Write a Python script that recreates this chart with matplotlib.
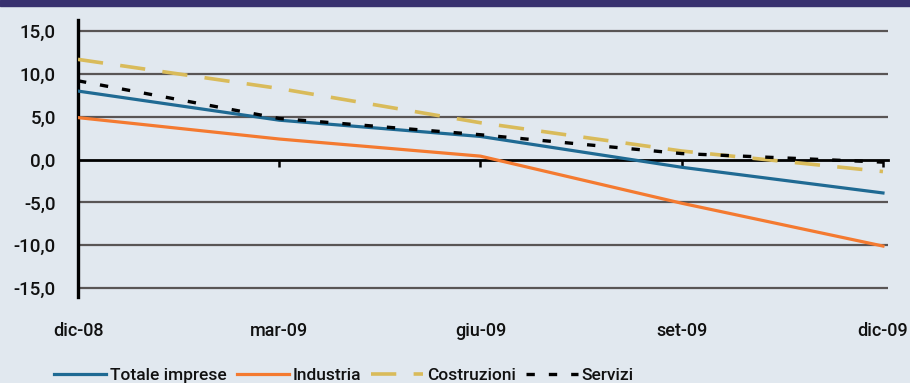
import matplotlib.pyplot as plt
from matplotlib.patches import Rectangle

# quarterly growth rates (%)
periods = ['dic-08', 'mar-09', 'giu-09', 'set-09', 'dic-09']
totale = [8.0, 4.6, 2.7, -0.9, -3.9]
industria = [4.9, 2.4, 0.4, -5.1, -10.1]
costruzioni = [11.7, 8.3, 4.3, 1.0, -1.4]
servizi = [9.2, 4.8, 2.9, 0.7, -0.3]
yticks = [15, 10, 5, 0, -5, -10, -15]

BG = '#e1e8ef'
FONT = ['Roboto', 'DejaVu Sans']


def plot_chart():
    fig = plt.figure(figsize=(9.1, 3.83), dpi=100, facecolor=BG)
    fig.patches.append(Rectangle((0, 1 - 6 / 383), 1, 6 / 383, transform=fig.transFigure,
                                 color='#38316f', zorder=0))
    ax = fig.add_axes([78 / 910, 86 / 383, 810 / 910, 277 / 383])
    ax.set_facecolor(BG)

    x = range(len(periods))
    ax.plot(x, totale, color='#1f6a93', lw=2.3, label='Totale imprese', zorder=4)
    ax.plot(x, industria, color='#f47a30', lw=2.3, label='Industria', zorder=4)
    ax.plot(x, costruzioni, color='#d9bb5a', lw=2.6, dashes=(7, 4.8), label='Costruzioni',
            zorder=3)
    ax.plot(x, servizi, color='black', lw=2.4, dashes=(2.5, 4.2), label='Servizi', zorder=5)

    ax.set_xlim(0, 4.025)
    ax.set_ylim(-16.05, 16.3)
    ax.set_yticks(yticks)
    ax.set_yticklabels([f'{v:.1f}'.replace('.', ',') for v in yticks],
                       family=FONT, fontweight='medium', fontsize=13.5, color='#111111')
    ax.tick_params(axis='y', length=0, pad=16)
    for v in yticks:
        if v != 0:
            ax.axhline(v, color='#595555', lw=1.6, zorder=1)

    for s in ('top', 'right'):
        ax.spines[s].set_visible(False)
    ax.spines['left'].set_linewidth(2.4)
    ax.spines['bottom'].set_position(('data', 0))
    ax.spines['bottom'].set_linewidth(2.0)
    ax.spines['bottom'].set_zorder(2)

    ax.set_xticks(list(x))
    ax.set_xticklabels(periods, family=FONT, fontweight='medium', fontsize=13,
                       color='#111111')
    ax.tick_params(axis='x', direction='out', length=5, width=1.8, pad=112)

    fig.legend(loc='lower center', bbox_to_anchor=(0.378, -0.04), ncol=4, frameon=False,
               prop={'family': FONT, 'size': 12.5, 'weight': 'medium'}, handlelength=3.0,
               handletextpad=0.2, columnspacing=0.6, labelcolor='#111111')

    fig.savefig('out.png', dpi=100, facecolor=BG)


def main():
    plot_chart()


if __name__ == '__main__':
    main()
